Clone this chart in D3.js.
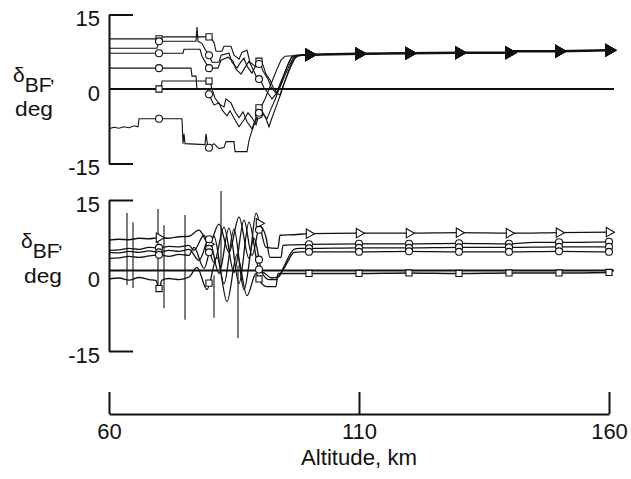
<!DOCTYPE html>
<html><head><meta charset="utf-8">
<script src="https://cdn.jsdelivr.net/npm/d3@7"></script>
<style>
html,body{margin:0;padding:0;background:#fff;}
text{font-family:"Liberation Sans",Arial,Helvetica,sans-serif;fill:#111;}
</style></head>
<body><svg id="c" width="631" height="479"></svg>
<script>
// ---------- DATA ----------
const altDomain = [60, 160];
const degDomain = [-15, 15];
const xTickValues = [60, 110, 160];
const yTickValues = [-15, 0, 15];
const markerAlts = [70, 80, 90, 100, 110, 120, 130, 140, 150, 160];

// top panel: shared tail after convergence
const topTail = [[100,6.9],[110,7.1],[120,7.2],[130,7.3],[140,7.3],[141,7.6],[150,7.6],[160,7.8]];
const topA = [[60,10.1],[70,10.1],[70.1,10.5],[80.2,10.5],[81,9.4],[81.4,7.6],[82.6,7.6],[83,8.6],[84.4,8.6],[85,6.8],[86,6],[86.6,7.4],[87.6,7.8],[88.2,5.4],[89.2,4.6],[89.8,5.8],[90.8,4.8],[91.4,3],[92.2,1.8],[92.8,0.4],[93.6,-0.8],[94.4,0.8],[95.2,2.8],[96,4.6],[96.8,6.2],[97.6,6.8]];
const topB = [[60,8.2],[69.6,8.2],[70,9.6],[77.4,9.6],[77.6,12.5],[77.8,9.6],[78.6,9.2],[79.2,8],[80,6.8],[80.6,5.4],[82,5.4],[82.4,6.8],[84,7.2],[84.6,5.4],[85.6,4.2],[86.2,5.2],[87,6.2],[87.6,4.6],[88.6,3.2],[89.2,4.4],[90.2,5.2],[90.8,3.6],[91.8,2],[92.4,0.4],[93.2,-0.6],[94.2,-1.2],[94.8,0.6],[95.6,2.6],[96.4,4.6],[97.2,6.2],[98,6.8]];
const topC = [[60,7.2],[74.8,7.2],[75,8],[78.2,8],[78.6,6.6],[79.4,5.2],[80,4.2],[81.8,4.2],[82.4,5.8],[83.8,6.4],[84.8,5.6],[85.4,4],[86.4,3],[87,4],[88,5.6],[88.8,4],[89.4,2.6],[90.4,1.6],[91,0.2],[91.8,-0.8],[92.6,-2],[93.4,-1],[94.2,1],[95,3],[95.8,5],[96.6,6.6]];
const topD = [[60,4.2],[76.4,4.2],[76.6,2.6],[77.4,2.6],[77.6,0],[79.6,0],[80.2,-1.6],[81,-3.2],[82,-2.8],[82.6,-4.2],[83.6,-5.4],[84.2,-4.4],[85.2,-6.2],[86,-7.6],[87,-6.2],[87.8,-4.8],[88.6,-5.8],[89.4,-7.2],[90,-5.2],[90.6,-4.4],[91.4,-6],[92,-7.6],[92.6,-5.8],[93.4,-3.6],[94.2,-1.4],[95,1],[95.8,3.4],[96.6,5.4],[97.4,6.6]];
const topE = [[60,0],[70.4,0],[70.6,1.6],[80.2,1.6],[80.6,0],[81.2,-1.8],[82,-3],[83,-3.6],[83.4,-2],[84.4,-2.8],[85.2,-4.6],[86,-5.8],[86.8,-4.6],[87.6,-6.6],[88.6,-8],[89.2,-6.4],[90,-3.8],[90.6,-4.8],[91.6,-6],[92.4,-4],[93.2,-2.2],[94,0],[94.8,2.2],[95.6,4.4],[96.4,6.2],[97.2,6.8]];
const topF = [[60,-8],[61,-7.7],[62,-7.9],[63,-7.6],[64,-7.8],[65,-7.4],[65.8,-7.6],[66,-6],[74.6,-6],[74.8,-11],[75,-9],[75.2,-11],[79.2,-11.2],[79.4,-9],[79.8,-12],[81,-11],[82,-12],[83,-11.8],[83.4,-10.6],[85,-10.6],[85.2,-12.6],[87.6,-12.6],[88,-10.4],[88.4,-9],[89,-7.2],[89.8,-5.4],[90.4,-3.6],[91.2,-2],[92,0],[92.8,2],[93.6,4],[94.4,5.8],[95.2,6.6]];
const topZero = [[60,0],[161,0]];

// bottom panel
const botG = [[60,7.0],[62,7.2],[64,7.1],[66,7.4],[68,7.3],[70,7.5],[72,7.4],[74,7.7],[76,7.8],[78,9],[80,6.2],[82,10.2],[84,4.6],[86,11.6],[88,3.4],[89.4,12.4],[91.4,5.6],[93.8,5.4],[94.2,8],[97,8.1],[100,8.3],[110,8.4],[120,8.4],[130,8.5],[140,8.4],[150,8.5],[160,8.6]];
const botH = [[60,5.0],[62,5.1],[64,5.4],[66,5.2],[68,5.6],[70,5.5],[72,5.8],[74,5.7],[76,6],[77,5],[79,8],[81,2.6],[83,9.6],[85,0.6],[87,11],[88.6,4],[90.2,9.8],[91.4,7.6],[92.2,3.6],[94.4,3.6],[94.8,6],[97,6.1],[100,6.2],[110,6.3],[120,6.3],[130,6.4],[140,6.3],[145,6.6],[150,6.6],[160,6.7]];
const botI = [[60,4.6],[62,4.5],[64,4.8],[66,4.6],[68,4.9],[70,4.6],[72,5],[74,4.8],[76,5.2],[78,3],[80,7.2],[82,0.4],[84,9.4],[86,-1.6],[88,10.6],[90,1.2],[91.2,0.4],[92.5,-0.5],[94,-0.2],[95,1.8],[96,3.8],[97,5.2],[98,5.4],[100,5.4],[110,5.5],[120,5.5],[130,5.6],[140,5.6],[150,5.7],[160,5.7]];
const botJ = [[60,3.4],[62,3.5],[64,3.8],[66,3.6],[68,3.9],[70,4.1],[72,3.8],[74,4.2],[76,4],[77,5.6],[79,1.4],[81,7.8],[83,-1.6],[85,9.2],[87,-2.8],[89,7.4],[90.6,0.6],[92,-0.8],[93.4,-0.8],[94,0],[95,1.4],[96,3.2],[97,4.6],[98.5,4.7],[100,4.7],[110,4.7],[120,4.8],[130,4.7],[140,4.7],[150,4.8],[160,4.7]];
const botK = [[60,-0.7],[62,-0.5],[64,-0.9],[66,-0.4],[68,-0.8],[69.4,-1],[70,-2.6],[70.6,-0.9],[72,-0.6],[74,-0.8],[76,-0.3],[77.6,1.6],[79.6,-2.8],[81.6,3.6],[83.6,-5.2],[85.6,4.2],[87.6,-4],[89.4,0.4],[90.4,-1.4],[91.6,-2.2],[93.4,-2.2],[93.8,0.4],[97,0.4],[100,0.4],[110,0.4],[120,0.5],[130,0.4],[140,0.5],[150,0.5],[160,0.6]];
const botRef = [[60,1],[161,1]];
// thin vertical spikes in bottom panel: [alt, low deg, high deg]
const botSpikes = [[63.6,-1.9,12.4],[64.8,-2.5,10.6],[69.8,-3.3,13.2],[71,-6.5,10],[75.2,-8.8,12],[81,-8.4,0],[82.4,1.7,16.8],[85.8,-12.4,2]];

// ---------- DRAW ----------
const svg = d3.select("#c");
svg.append("rect").attr("width",631).attr("height",479).attr("fill","#fff");
const x = d3.scaleLinear().domain(altDomain).range([109, 609]);
const yTop = d3.scaleLinear().domain(degDomain).range([163.5, 14.5]);
const yBot = d3.scaleLinear().domain(degDomain).range([351, 200]);
const INK = "#111";

function valueAt(arr, a){
  for(let i=1;i<arr.length;i++){
    if(arr[i][0] >= a){
      const [x0,y0]=arr[i-1],[x1,y1]=arr[i];
      return x1===x0 ? y1 : y0 + (y1-y0)*(a-x0)/(x1-x0);
    }
  }
  return arr[arr.length-1][1];
}

function yAxes(y){
  const g1 = svg.append("g").attr("transform",`translate(${x(60)},0)`)
    .call(d3.axisRight(y).tickValues([-15,15]).tickSize(24).tickSizeOuter(0).tickFormat(""));
  g1.selectAll("path,line").attr("stroke",INK).attr("stroke-width",2);
  const g2 = svg.append("g").attr("transform",`translate(${x(60)},0)`)
    .call(d3.axisLeft(y).tickValues(yTickValues).tickSize(0).tickPadding(9).tickFormat(d=>String(d)));
  g2.select(".domain").remove();
  g2.selectAll("text").attr("font-size",22).attr("font-family","Liberation Sans, Arial, sans-serif").attr("fill",INK).attr("dy","0.5em");
}
yAxes(yTop); yAxes(yBot);

// x axis
const gx1 = svg.append("g").attr("transform","translate(0,414)")
  .call(d3.axisTop(x).tickValues(xTickValues).tickSize(22).tickSizeOuter(0).tickFormat(""));
gx1.selectAll("path,line").attr("stroke",INK).attr("stroke-width",2);
const gx2 = svg.append("g").attr("transform","translate(0,414)")
  .call(d3.axisBottom(x).tickValues(xTickValues).tickSize(0).tickPadding(9));
gx2.select(".domain").remove();
gx2.selectAll("text").attr("font-size",22).attr("font-family","Liberation Sans, Arial, sans-serif").attr("fill",INK);
svg.append("text").attr("x",301).attr("y",465).attr("font-size",22)
  .attr("textLength",116).attr("lengthAdjust","spacingAndGlyphs").text("Altitude, km");

// y labels
function yLabel(x0,yb,xd,yd){
  const t = svg.append("text").attr("x",x0).attr("y",yb).attr("font-size",21);
  t.append("tspan").text("δ");
  t.append("tspan").attr("dy",10).text("BF");
  t.append("tspan").attr("dy",-10).text(",");
  svg.append("text").attr("x",xd).attr("y",yd).attr("font-size",21)
    .attr("textLength",38).attr("lengthAdjust","spacingAndGlyphs").text("deg");
}
yLabel(13,82,15,116);
yLabel(21,248,24,283);

// lines
const lineTop = d3.line().x(d=>x(d[0])).y(d=>yTop(d[1]));
const lineBot = d3.line().x(d=>x(d[0])).y(d=>yBot(d[1])).curve(d3.curveMonotoneX);
const lineBotLin = d3.line().x(d=>x(d[0])).y(d=>yBot(d[1]));

svg.append("path").attr("d",lineTop(topZero)).attr("fill","none").attr("stroke",INK).attr("stroke-width",1.8);
svg.append("path").attr("d",lineBotLin(botRef)).attr("fill","none").attr("stroke",INK).attr("stroke-width",2);

const topSeries = [topA,topB,topC,topD,topE,topF].map(h=>h.concat(topTail));
const topShapes = [d3.symbolSquare,d3.symbolCircle,d3.symbolCircle,d3.symbolCircle,d3.symbolSquare,d3.symbolCircle];
topSeries.forEach((s,i)=>{
  svg.append("path").attr("d",lineTop(s)).attr("fill","none").attr("stroke",INK).attr("stroke-width",1.1);
});
// converged tail drawn heavier (overlapping traces)
svg.append("path").attr("d",lineTop(topTail)).attr("fill","none").attr("stroke",INK).attr("stroke-width",2.6);
topSeries.forEach((s,i)=>{
  markerAlts.forEach(a=>{
    const tail = a>=100;
    svg.append("path").attr("d",d3.symbol().type(tail?d3.symbolTriangle:topShapes[i]).size(tail?60:38)())
      .attr("transform",`translate(${x(a)},${yTop(valueAt(s,a))})${tail?" rotate(90)":""}`)
      .attr("fill",tail?INK:"#fff").attr("stroke",INK).attr("stroke-width",1.1);
  });
});

const botSeries = [botG,botH,botI,botJ,botK];
const botShapes = [d3.symbolTriangle,d3.symbolCircle,d3.symbolCircle,d3.symbolCircle,d3.symbolSquare];
botSpikes.forEach(s=>{
  svg.append("line").attr("x1",x(s[0])).attr("x2",x(s[0])).attr("y1",yBot(s[1])).attr("y2",yBot(s[2]))
    .attr("stroke",INK).attr("stroke-width",1.1);
});
botSeries.forEach(s=>{
  svg.append("path").attr("d",lineBot(s)).attr("fill","none").attr("stroke",INK).attr("stroke-width",1.3);
});
botSeries.forEach((s,i)=>{
  markerAlts.forEach(a=>{
    svg.append("path").attr("d",d3.symbol().type(botShapes[i]).size(38)())
      .attr("transform",`translate(${x(a)},${yBot(valueAt(s,a))})${i===0?" rotate(90)":""}`)
      .attr("fill","#fff").attr("stroke",INK).attr("stroke-width",1.1);
  });
});
</script></body></html>
